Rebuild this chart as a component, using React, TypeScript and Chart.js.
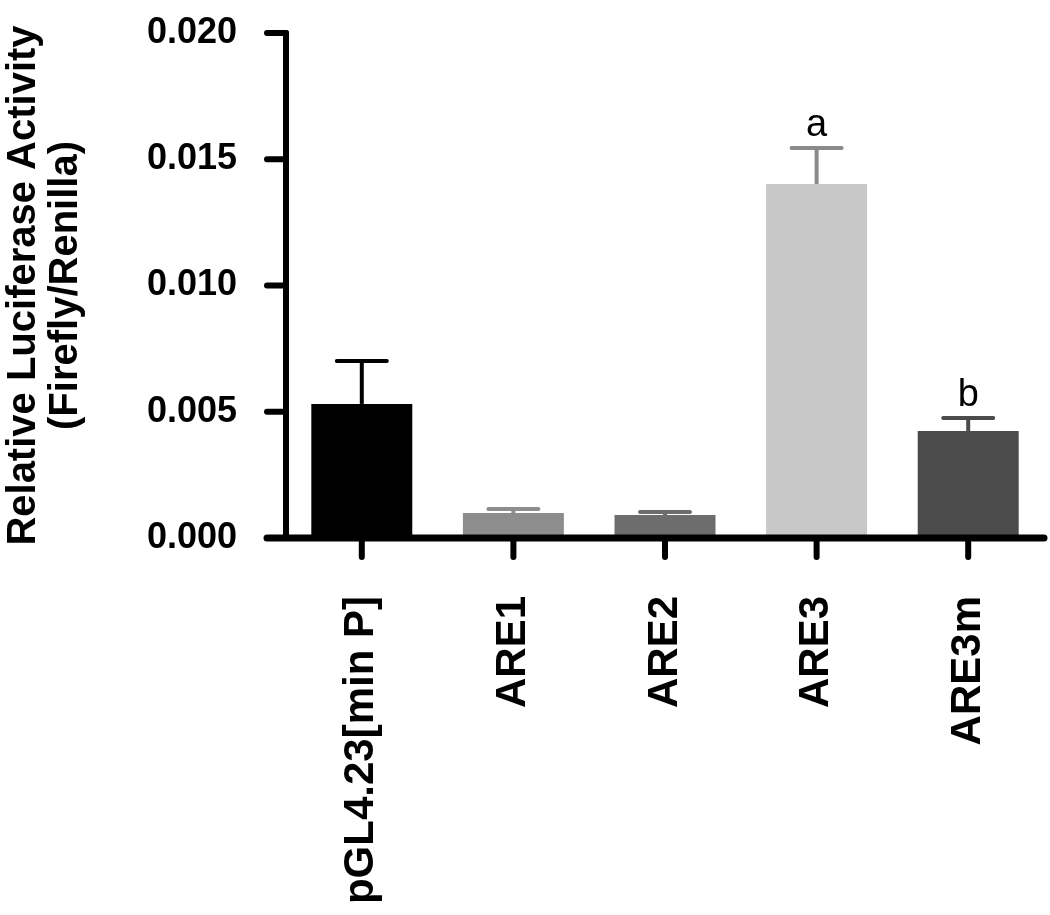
import React, { useEffect, useRef } from "react";
import { Chart, registerables } from "chart.js";

Chart.register(...registerables);

const categories = ["pGL4.23[min P]", "ARE1", "ARE2", "ARE3", "ARE3m"];
const means = [0.00531, 0.00099, 0.00091, 0.01402, 0.00424];
const errors = [0.0017, 0.00016, 0.00012, 0.00143, 0.00051];
const barColors = ["#000000", "#8d8d8d", "#6d6d6d", "#c8c8c8", "#4b4b4b"];
const errorColors = ["#000000", "#8d8d8d", "#6d6d6d", "#8a8a8a", "#4b4b4b"];
const letters = ["", "", "", "a", "b"];
const yMin = 0;
const yMax = 0.02;
const yStep = 0.005;
const yTitle = ["Relative Luciferase Activity", "(Firefly/Renilla)"];

const FONT = "'Liberation Sans', Arial, Helvetica, sans-serif";

const overlay = {
  id: "overlay",
  afterDatasetsDraw(chart: any) {
    const { ctx, chartArea } = chart;
    const x = chart.scales.x;
    const y = chart.scales.y;
    ctx.save();

    // error bars
    means.forEach((m, i) => {
      const cx = x.getPixelForValue(i);
      const yBase = y.getPixelForValue(m);
      const yTop = y.getPixelForValue(m + errors[i]);
      ctx.strokeStyle = errorColors[i];
      ctx.lineWidth = 4;
      ctx.lineCap = "butt";
      ctx.beginPath();
      ctx.moveTo(cx, yBase);
      ctx.lineTo(cx, yTop);
      ctx.stroke();
      ctx.lineCap = "round";
      ctx.beginPath();
      ctx.moveTo(cx - 25, yTop);
      ctx.lineTo(cx + 25, yTop);
      ctx.stroke();
      if (letters[i]) {
        ctx.fillStyle = "#000";
        ctx.font = `38px ${FONT}`;
        ctx.textAlign = "center";
        ctx.textBaseline = "alphabetic";
        ctx.fillText(letters[i], cx, yTop - 12);
      }
    });

    // axes
    const left = chartArea.left;
    const bottom = chartArea.bottom;
    const tickLen = 19;
    ctx.strokeStyle = "#000";
    ctx.lineWidth = 6;
    ctx.lineCap = "round";
    ctx.lineJoin = "miter";
    ctx.beginPath();
    ctx.moveTo(left, y.getPixelForValue(yMax));
    ctx.lineTo(left, bottom);
    ctx.stroke();
    y.ticks.forEach((t: any) => {
      const py = y.getPixelForValue(t.value);
      ctx.beginPath();
      ctx.moveTo(left - tickLen, py);
      ctx.lineTo(left, py);
      ctx.stroke();
    });
    ctx.lineWidth = 7;
    ctx.beginPath();
    ctx.moveTo(left - tickLen, bottom);
    ctx.lineTo(chartArea.right, bottom);
    ctx.stroke();
    ctx.lineWidth = 6;
    categories.forEach((_, i) => {
      const px = x.getPixelForValue(i);
      ctx.beginPath();
      ctx.moveTo(px, bottom);
      ctx.lineTo(px, bottom + tickLen);
      ctx.stroke();
    });
    ctx.restore();
  },
};

export default function App() {
  const canvasRef = useRef<HTMLCanvasElement | null>(null);

  useEffect(() => {
    document.body.style.margin = "0";
    const canvas = canvasRef.current;
    if (!canvas) return;
    const chart = new Chart(canvas, {
      type: "bar",
      data: {
        labels: categories,
        datasets: [
          {
            data: means,
            backgroundColor: barColors,
            borderWidth: 0,
            barPercentage: 0.666,
            categoryPercentage: 1,
          },
        ],
      },
      options: {
        responsive: false,
        animation: false,
        devicePixelRatio: 1,
        layout: { padding: { top: 33, right: 6, left: 0, bottom: 0 } },
        plugins: {
          legend: { display: false },
          tooltip: { enabled: false },
          title: { display: false },
        },
        scales: {
          x: {
            type: "category",
            offset: true,
            grid: { display: false, drawTicks: false, offset: false },
            border: { display: false },
            ticks: {
              color: "#000",
              font: { family: FONT, size: 42, weight: "bold" },
              minRotation: 90,
              maxRotation: 90,
              autoSkip: false,
              padding: 58,
            },
            afterFit: (scale: any) => {
              scale.height = 377;
              scale.paddingLeft = 0;
              scale.paddingRight = 0;
            },
          },
          y: {
            min: yMin,
            max: yMax,
            grid: { display: false, drawTicks: false },
            border: { display: false },
            ticks: {
              stepSize: yStep,
              color: "#000",
              font: { family: FONT, size: 36, weight: "bold" },
              padding: 49,
              callback: (v: any) => Number(v).toFixed(3),
            },
            title: {
              display: true,
              text: yTitle,
              color: "#000",
              font: { family: FONT, size: 40, weight: "bold", lineHeight: 1.05 },
              padding: { top: 3, bottom: 0 },
            },
            afterFit: (scale: any) => {
              scale.width = 286;
              scale.paddingTop = 0;
              scale.paddingBottom = 0;
            },
          },
        },
      },
      plugins: [overlay],
    });
    return () => chart.destroy();
  }, []);

  return (
    <div style={{ width: 1050, height: 915 }}>
      <canvas ref={canvasRef} width={1050} height={915} style={{ display: "block" }} />
    </div>
  );
}
